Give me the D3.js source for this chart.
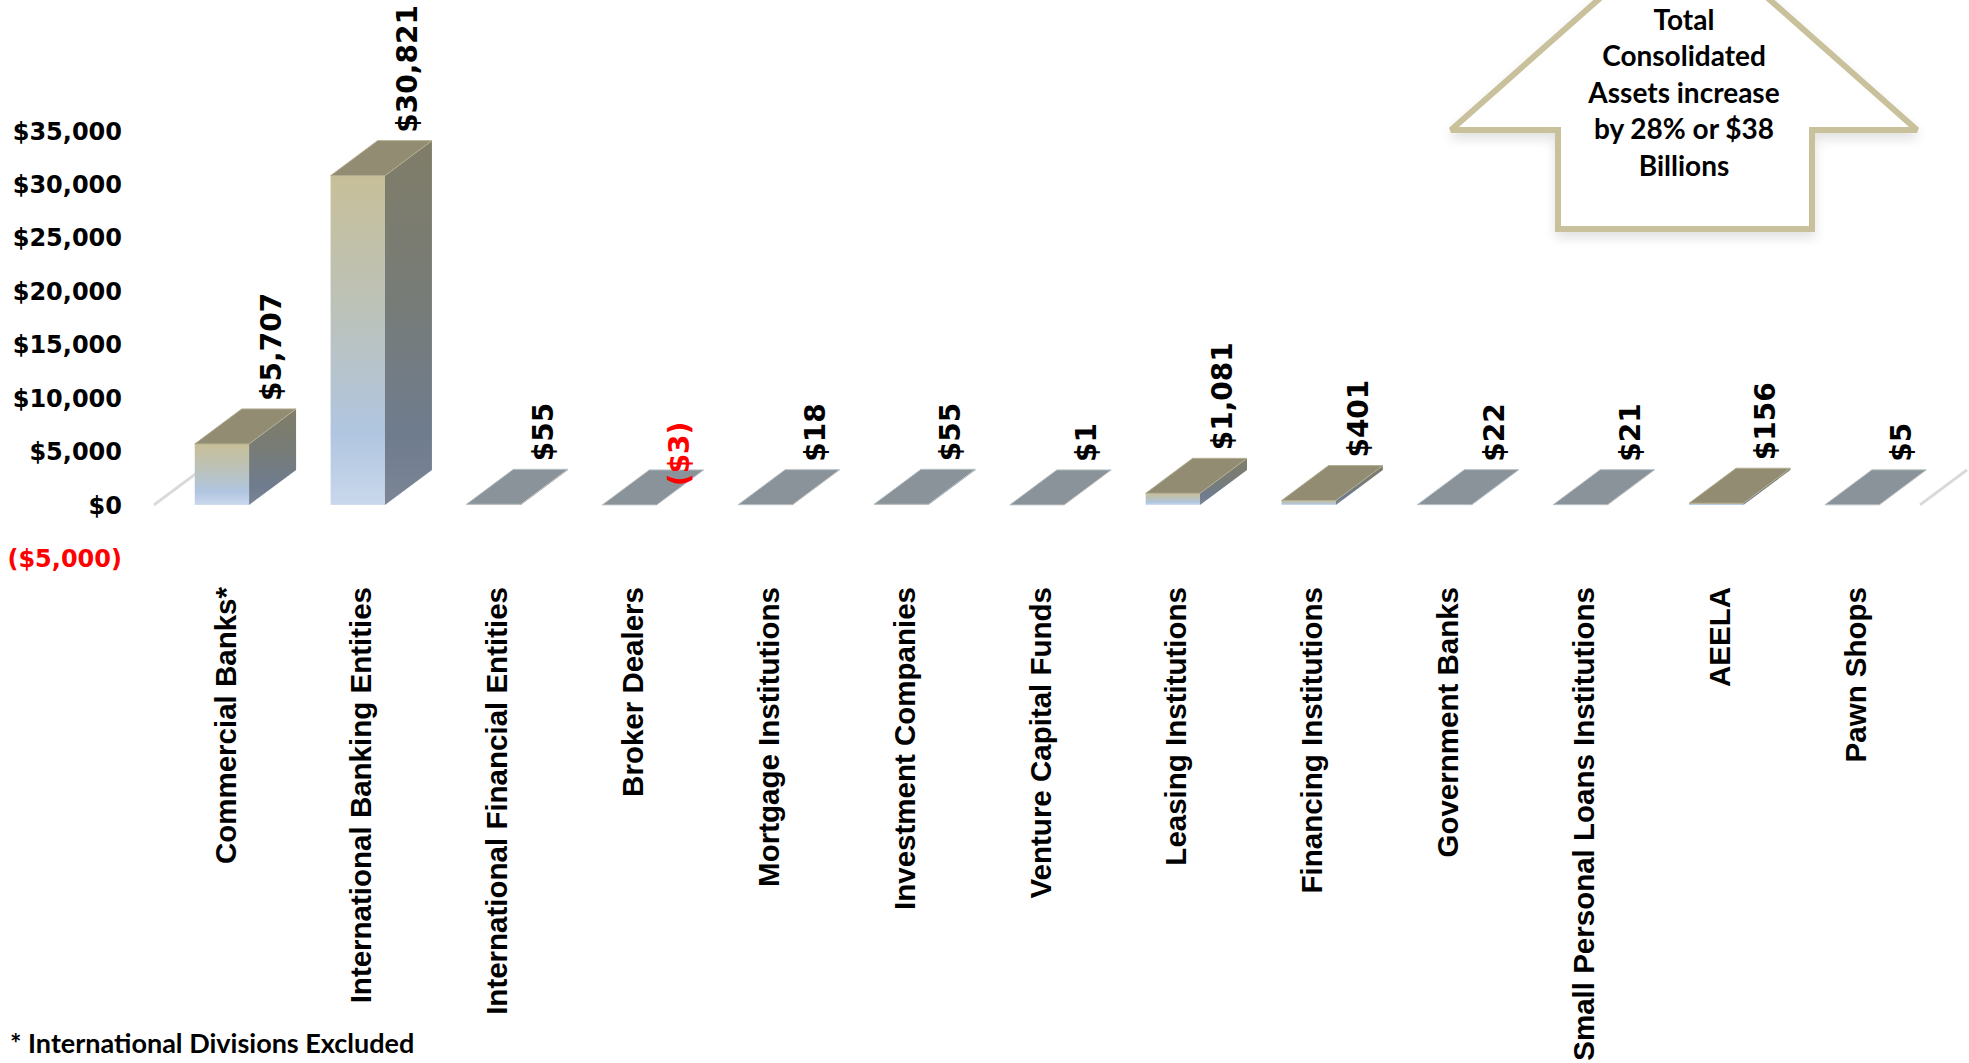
<!DOCTYPE html>
<html>
<head>
<meta charset="utf-8">
<script src="https://cdn.jsdelivr.net/npm/d3@7"></script>
<style>
  body { margin: 0; background: #ffffff; }
</style>
</head>
<body>
<script>
// chart data
var categories = ["Commercial Banks*", "International Banking Entities", "International Financial Entities",
    "Broker Dealers", "Mortgage Institutions", "Investment Companies", "Venture Capital Funds",
    "Leasing Institutions", "Financing Institutions", "Government Banks",
    "Small Personal Loans Institutions", "AEELA", "Pawn Shops"];
var values = [5707, 30821, 55, -3, 18, 55, 1, 1081, 401, 22, 21, 156, 5];
var yTicks = [-5000, 0, 5000, 10000, 15000, 20000, 25000, 30000, 35000];
var arrowLines = ["Total", "Consolidated", "Assets increase", "by 28% or $38", "Billions"];
var footnote = "* International Divisions Excluded";

window.onload = function(){

    var w = 1969, h = 1063;
    var depthX = 47, depthY = 35; //3d offset of the back plane

    var svg = d3.select("body")
        .append("svg")
        .attr("width", w)
        .attr("height", h);

    var defs = svg.append("defs");

    //front face gradient, tan at top to light blue at bottom
    var gFront = defs.append("linearGradient")
        .attr("id", "gFront")
        .attr("x1", 0).attr("y1", 0).attr("x2", 0).attr("y2", 1);
    [["0%", "#c7bf98"], ["40%", "#bcc2b8"], ["78%", "#b0c5e0"], ["100%", "#c9d8ec"]].forEach(function(s){
        gFront.append("stop").attr("offset", s[0]).attr("stop-color", s[1]);
    });

    //side face gradient, darker
    var gSide = defs.append("linearGradient")
        .attr("id", "gSide")
        .attr("x1", 0).attr("y1", 0).attr("x2", 0).attr("y2", 1);
    [["0%", "#807d68"], ["45%", "#777c78"], ["80%", "#6f7c8e"], ["100%", "#7b8596"]].forEach(function(s){
        gSide.append("stop").attr("offset", s[0]).attr("stop-color", s[1]);
    });

    //soft shadow for the arrow
    var shadow = defs.append("filter")
        .attr("id", "shadow")
        .attr("x", "-10%").attr("y", "-10%").attr("width", "120%").attr("height", "130%");
    shadow.append("feGaussianBlur").attr("in", "SourceAlpha").attr("stdDeviation", 6);
    shadow.append("feOffset").attr("dx", 0).attr("dy", 6).attr("result", "blur");
    shadow.append("feComponentTransfer").append("feFuncA").attr("type", "linear").attr("slope", 0.12);
    var merge = shadow.append("feMerge");
    merge.append("feMergeNode");
    merge.append("feMergeNode").attr("in", "SourceGraphic");

    //scales
    var x = d3.scaleBand()
        .domain(categories)
        .range([154, 1920])
        .paddingInner(0.6)
        .paddingOuter(0.3);

    var y = d3.scaleLinear()
        .domain([-5000, 35000])
        .range([558.3, 131]);

    var money = function(v){
        var f = d3.format(",");
        return v < 0 ? "($" + f(-v) + ")" : "$" + f(v);
    };

    //floor side edges
    var x0 = 154, x1 = 1920;
    svg.append("line")
        .attr("x1", x0).attr("y1", y(0))
        .attr("x2", x0 + depthX).attr("y2", y(0) - depthY)
        .style("stroke", "#d9d9d9").style("stroke-width", 3);
    svg.append("line")
        .attr("x1", x1).attr("y1", y(0))
        .attr("x2", x1 + depthX).attr("y2", y(0) - depthY)
        .style("stroke", "#d9d9d9").style("stroke-width", 3);

    //y axis labels
    svg.selectAll(".ytick")
        .data(yTicks)
        .enter()
        .append("text")
        .attr("class", "ytick")
        .attr("x", 122)
        .attr("y", function(d){ return y(d); })
        .attr("dy", "0.36em")
        .attr("text-anchor", "end")
        .style("font-family", "'DejaVu Sans', Verdana, sans-serif")
        .style("font-weight", "bold")
        .style("font-size", "24px")
        .style("fill", function(d){ return d < 0 ? "#ff0000" : "#000000"; })
        .text(money);

    var data = categories.map(function(c, i){ return { cat: c, value: values[i] }; });

    var bars = svg.selectAll(".bar")
        .data(data)
        .enter()
        .append("g")
        .attr("class", "bar");

    var bw = x.bandwidth();

    //front face
    bars.append("rect")
        .attr("x", function(d){ return x(d.cat); })
        .attr("y", function(d){ return Math.min(y(d.value), y(0)); })
        .attr("width", bw)
        .attr("height", function(d){ return Math.abs(y(d.value) - y(0)); })
        .style("fill", "url(#gFront)");

    //side face
    bars.append("polygon")
        .attr("points", function(d){
            var r = x(d.cat) + bw, t = Math.min(y(d.value), y(0)), b = Math.max(y(d.value), y(0));
            return [[r, t], [r + depthX, t - depthY], [r + depthX, b - depthY], [r, b]].join(" ");
        })
        .style("fill", "url(#gSide)");

    //top face
    bars.append("polygon")
        .attr("points", function(d){
            var l = x(d.cat), t = Math.min(y(d.value), y(0));
            return [[l, t], [l + depthX, t - depthY], [l + bw + depthX, t - depthY], [l + bw, t]].join(" ");
        })
        .style("fill", function(d){ return Math.abs(d.value) < 100 ? "#8a9399" : "#928d72"; })
        .style("stroke", function(d){ return Math.abs(d.value) < 100 ? "#b9c0c4" : "#b2ad92"; })
        .style("stroke-width", 1);

    //value labels
    svg.selectAll(".vlabel")
        .data(data)
        .enter()
        .append("text")
        .attr("class", "vlabel")
        .attr("transform", function(d){
            var cx = x(d.cat) + bw + 22;
            var t = Math.min(y(d.value), y(0)) - depthY;
            return d.value < 0 ? "translate(" + cx + "," + (t - 16) + ") rotate(-90)"
                               : "translate(" + cx + "," + (t - 8) + ") rotate(-90)";
        })
        .attr("dy", "0.36em")
        .attr("text-anchor", function(d){ return d.value < 0 ? "middle" : "start"; })
        .style("font-family", "'DejaVu Sans', Verdana, sans-serif")
        .style("font-weight", "bold")
        .style("font-size", "28px")
        .style("fill", function(d){ return d.value < 0 ? "#ff0000" : "#000000"; })
        .text(function(d){ return money(d.value); });

    //category labels
    svg.selectAll(".clabel")
        .data(categories)
        .enter()
        .append("text")
        .attr("class", "clabel")
        .attr("transform", function(d){
            return "translate(" + (x(d) + bw / 2 + 3) + ",587) rotate(-90)";
        })
        .attr("dy", "0.36em")
        .attr("text-anchor", "end")
        .style("font-family", "'Liberation Sans', Arial, sans-serif")
        .style("font-weight", "bold")
        .style("font-size", "29.5px")
        .text(function(d){ return d; });

    //up arrow callout
    var ax = 1684, wingY = 130, wingL = 1451, wingR = 1917, shaftL = 1558, shaftR = 1812, bottom = 229;
    var apexY = wingY - (ax - wingL) * 0.885;
    svg.append("polygon")
        .attr("points", [[ax, apexY], [wingR, wingY], [shaftR, wingY], [shaftR, bottom],
            [shaftL, bottom], [shaftL, wingY], [wingL, wingY]].join(" "))
        .attr("filter", "url(#shadow)")
        .style("fill", "#ffffff")
        .style("stroke", "#c9c09c")
        .style("stroke-width", 6)
        .style("stroke-linejoin", "miter")
        .style("stroke-miterlimit", 2);

    svg.selectAll(".arrowText")
        .data(arrowLines)
        .enter()
        .append("text")
        .attr("class", "arrowText")
        .attr("x", ax)
        .attr("y", function(d, i){ return 20 + i * 36.5; })
        .attr("dy", "0.35em")
        .attr("text-anchor", "middle")
        .style("font-family", "Lato, 'Open Sans', sans-serif")
        .style("font-weight", "bold")
        .style("font-size", "28px")
        .text(function(d){ return d; });

    //footnote
    svg.append("text")
        .attr("x", 10)
        .attr("y", 1044)
        .attr("dy", "0.35em")
        .style("font-family", "Lato, 'Open Sans', sans-serif")
        .style("font-weight", "bold")
        .style("font-size", "27px")
        .text(footnote);
};
</script>
</body>
</html>
